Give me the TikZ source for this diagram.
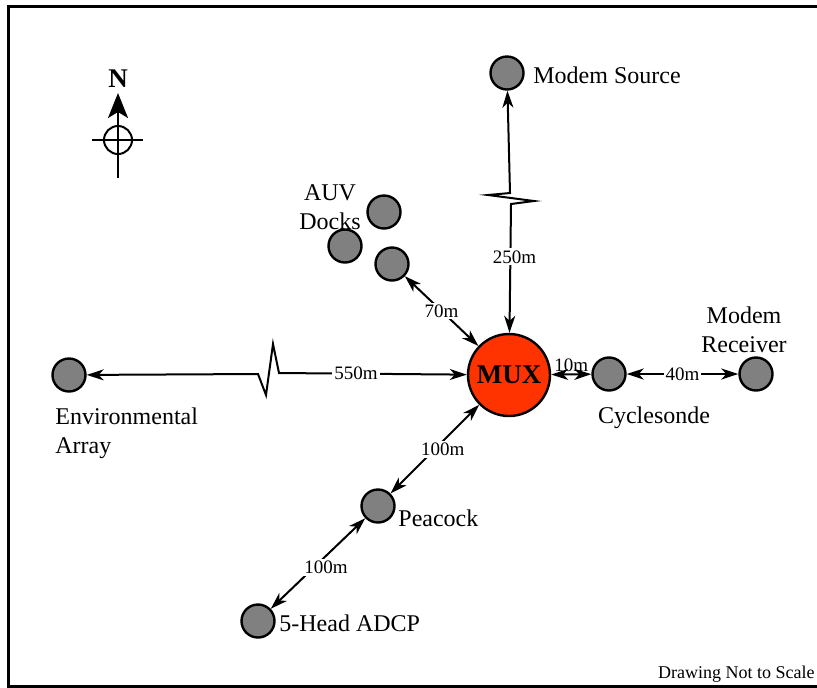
\documentclass[tikz,border=0pt]{standalone}
\usepackage{fontspec}
\setmainfont{Liberation Serif}
\usetikzlibrary{arrows.meta}
\definecolor{devgray}{RGB}{128,128,128}
\definecolor{muxred}{RGB}{255,51,0}
\tikzset{
    dev/.style={circle, draw, line width=1.2pt, fill=devgray, minimum size=16.5pt, inner sep=0pt},
    hub/.style={circle, draw, line width=1.2pt, fill=muxred, minimum size=41pt, inner sep=0pt,
        font=\bfseries\fontsize{13.5}{14}\selectfont},
    link/.style={line width=1pt, {Stealth[length=8.5pt,width=5.5pt,inset=2.5pt]}-{Stealth[length=8.5pt,width=5.5pt,inset=2.5pt]}},
    dist/.style={fill=white, inner sep=1pt, font=\fontsize{9.5}{11}\selectfont},
    lbl/.style={inner sep=0pt, font=\fontsize{12}{14.5}\selectfont},
}
\begin{document}
\begin{tikzpicture}[x=0.5pt, y=-0.5pt]
    \useasboundingbox (0,0) rectangle (817,687);
    % Frame (open to the right)
    \draw[line width=1.5pt] (817,6) -- (8,6) -- (8,686) -- (817,686);

    % North mark
    \node[inner sep=0pt, font=\bfseries\fontsize{13.5}{14}\selectfont] (north) at (118,79) {N};
    \coordinate (nTail) at (118,178); \coordinate (nTip) at (118,93);
    \draw[line width=1pt, -{Stealth[length=12.5pt,width=10pt,inset=3pt]}] (nTail) -- (nTip);
    \draw[line width=1pt] (118,140) circle (14);
    \draw[line width=1pt] (92,140) -- (143,140);

    % Instruments
    \node[hub] (mux) at (509,375) {MUX};
    \foreach \n/\x/\y in {src/507/73, auvA/384/212, auvB/345/246, auvC/392/264,
        cyc/609/374, rcv/756/374, env/69/375, pea/378/506, adcp/258/621}
        \node[dev] (\n) at (\x,\y) {};

    % Labels
    \node[lbl, anchor=base west] (srcL) at (533,83) {Modem Source};
    \node[lbl, anchor=north, align=center] (auvL) at (330,184) {AUV\\Docks};
    \node[lbl, anchor=north, align=center] (rcvL) at (744,306) {Modem\\Receiver};
    \node[lbl, anchor=base] (cycL) at (654,423) {Cyclesonde};
    \node[lbl, anchor=north west, align=left] (envL) at (55,407) {Environmental\\Array};
    \node[lbl, anchor=base west] (peaL) at (398,526) {Peacock};
    \node[lbl, anchor=base west] (adcpL) at (279,631) {5-Head ADCP};
    \node[inner sep=0pt, anchor=base east, font=\fontsize{9}{10}\selectfont] (note) at (815,678) {Drawing Not to Scale};

    % Cable runs
    \coordinate (brkW) at (258,374);
    \coordinate (brkN) at (511,204);
    \draw[link] (env) -- (brkW) -- ++(8,21) -- ++(7,-51) -- ++(6,29)
        -- node[dist, pos=0.41]{550m} (mux);
    \draw[link] (mux) -- node[dist, pos=0.59, xshift=2pt]{250m} (brkN)
        -- ++(23,-3) -- ++(-46,-6) -- ++(22,-2) -- (src);
    \draw[link] (mux) -- node[dist]{70m} (auvC);
    \draw[link] (mux) -- node[above, inner sep=1pt, font=\fontsize{9.5}{11}\selectfont]{10m} (cyc);
    \draw[link] (cyc) -- node[dist]{40m} (rcv);
    \draw[link] (mux) -- node[dist, xshift=4pt]{100m} (pea);
    \draw[link] (pea) -- node[dist, xshift=4pt, yshift=-2pt]{100m} (adcp);
\end{tikzpicture}
\end{document}
